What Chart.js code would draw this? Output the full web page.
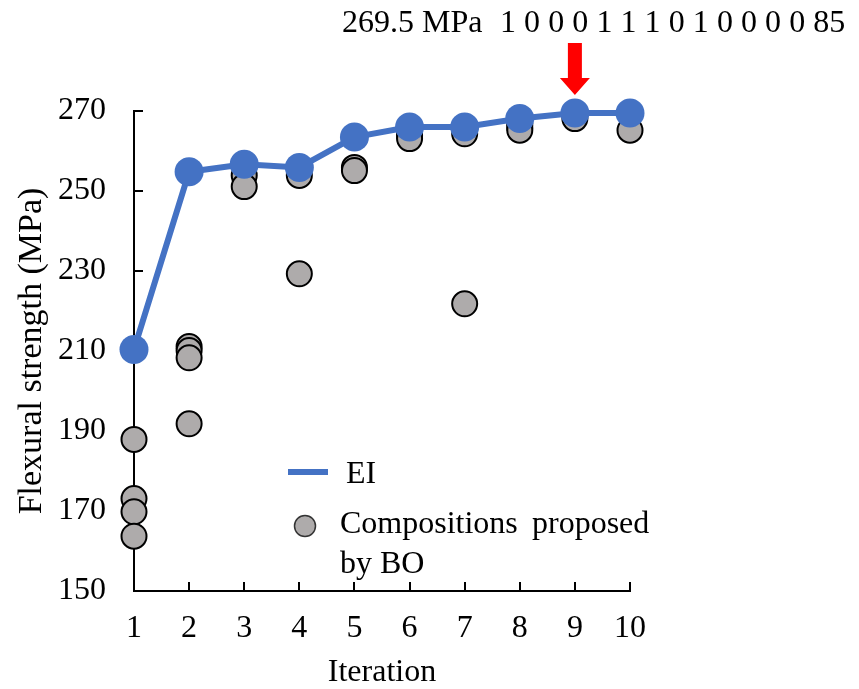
<!DOCTYPE html>
<html>
<head>
<meta charset="utf-8">
<script src="https://cdn.jsdelivr.net/npm/chart.js@4.4.1/dist/chart.umd.min.js"></script>
<style>
  html, body { margin: 0; padding: 0; background: #fff; }
  #wrap { width: 859px; height: 689px; position: relative; }
</style>
</head>
<body>
<div id="wrap"><canvas id="chart"></canvas></div>
<script>
// Best-so-far (EI) per iteration
const iterations = [1, 2, 3, 4, 5, 6, 7, 8, 9, 10];
const eiValues = [210.4, 254.8, 256.7, 255.9, 263.5, 266.0, 266.0, 268.1, 269.5, 269.5];

// Compositions proposed by BO, grouped by iteration
const boIteration = [1, 1, 1, 1, 2, 2, 2, 2, 3, 3, 4, 4, 5, 5, 6, 6, 6, 7, 7, 8, 8, 8, 9, 10];
const boValues = [187.9, 173.1, 169.8, 163.7, 211.1, 210.1, 208.3, 191.8, 253.9, 251.1, 253.9, 229.3,
                  255.9, 255.1, 264.9, 263.9, 263.1, 264.3, 221.8, 266.8, 265.9, 265.2, 268.1, 265.2];

const yTicks = [150, 170, 190, 210, 230, 250, 270];

const bestLabel = '269.5 MPa';
const bestComposition = [1, 0, 0, 0, 1, 1, 1, 0, 1, 0, 0, 0, 0, 85];
const bestIteration = 9;

const FONT = "'Liberation Serif', 'Times New Roman', serif";
const BLUE = '#4472C4';
const GREY = '#AEABAB';

// Excel style inner tick marks
const innerTicks = {
    id: 'innerTicks',
    beforeDatasetsDraw(chart) {
        const { ctx, scales: { x, y } } = chart;
        ctx.save();
        ctx.strokeStyle = '#000';
        ctx.lineWidth = 2;
        ctx.beginPath();
        y.ticks.forEach(t => {
            const py = Math.round(y.getPixelForValue(t.value));
            ctx.moveTo(x.left, py);
            ctx.lineTo(x.left + 9, py);
        });
        x.ticks.forEach(t => {
            const px = Math.round(x.getPixelForValue(t.value));
            ctx.moveTo(px, y.bottom);
            ctx.lineTo(px, y.bottom - 9);
        });
        ctx.stroke();
        ctx.restore();
    },
};

// legend + top annotation with arrow
const extras = {
    id: 'extras',
    afterDraw(chart) {
        const { ctx, scales: { x } } = chart;
        const ds = chart.data.datasets;
        ctx.save();
        ctx.font = `32px ${FONT}`;
        ctx.fillStyle = '#000';
        ctx.textBaseline = 'alphabetic';
        ctx.textAlign = 'left';

        // legend: EI line
        ctx.strokeStyle = BLUE;
        ctx.lineWidth = 6;
        ctx.beginPath();
        ctx.moveTo(288, 472);
        ctx.lineTo(328, 472);
        ctx.stroke();
        ctx.fillText(ds[0].label, 346, 483);

        // legend: BO marker
        ctx.beginPath();
        ctx.arc(305, 526, 10.5, 0, Math.PI * 2);
        ctx.fillStyle = GREY;
        ctx.fill();
        ctx.lineWidth = 1.5;
        ctx.strokeStyle = '#333';
        ctx.stroke();
        ctx.fillStyle = '#000';
        const words = ds[1].label.split(' ');
        ctx.fillText(words[0], 340, 533);
        ctx.fillText(words[1], 532, 533);
        ctx.fillText(words.slice(2).join(' '), 340, 573);

        // annotation text: value, then the composition spread evenly
        ctx.fillText(bestLabel, 342, 32);
        const step = 24.1;
        bestComposition.forEach((c, i) => {
            ctx.fillText(String(c), 500 + i * step, 32);
        });

        // red arrow over best iteration
        const ax = x.getPixelForValue(bestIteration);
        ctx.fillStyle = '#FF0000';
        ctx.beginPath();
        ctx.moveTo(ax - 7, 43);
        ctx.lineTo(ax + 7, 43);
        ctx.lineTo(ax + 7, 78);
        ctx.lineTo(ax + 15, 78);
        ctx.lineTo(ax, 95);
        ctx.lineTo(ax - 15, 78);
        ctx.lineTo(ax - 7, 78);
        ctx.closePath();
        ctx.fill();
        ctx.restore();
    },
};

new Chart(document.getElementById('chart'), {
    type: 'scatter',
    plugins: [innerTicks, extras],
    data: {
        datasets: [{
            label: 'EI',
            data: iterations.map((it, i) => ({ x: it, y: eiValues[i] })),
            showLine: true,
            borderColor: BLUE,
            backgroundColor: BLUE,
            borderWidth: 6,
            pointRadius: 14.5,
            pointBorderWidth: 0,
            pointBackgroundColor: BLUE,
            clip: false,
            order: 0,
        }, {
            label: 'Compositions proposed by BO',
            data: boIteration.map((it, i) => ({ x: it, y: boValues[i] })),
            pointRadius: 12.5,
            pointBackgroundColor: GREY,
            pointBorderColor: '#000',
            pointBorderWidth: 2,
            clip: false,
            order: 1,
        }],
    },
    options: {
        responsive: true,
        maintainAspectRatio: false,
        animation: false,
        layout: { padding: { left: 0, top: 111, right: 229, bottom: 0 } },
        plugins: {
            legend: { display: false },
            tooltip: { enabled: false },
        },
        scales: {
            x: {
                type: 'linear',
                min: 1,
                max: 10,
                afterFit: s => { s.height = 98; },
                afterBuildTicks: s => { s.ticks = iterations.map(v => ({ value: v })); },
                grid: { display: false, drawTicks: false },
                border: { display: true, color: '#000', width: 2 },
                ticks: { color: '#000', font: { family: FONT, size: 32 }, padding: 18, maxRotation: 0 },
                title: {
                    display: true,
                    text: 'Iteration',
                    color: '#000',
                    font: { family: FONT, size: 32, lineHeight: 1 },
                    padding: 0,
                },
            },
            y: {
                min: 150,
                max: 270,
                afterFit: s => { s.width = 134; },
                afterBuildTicks: s => { s.ticks = yTicks.map(v => ({ value: v })); },
                grid: { display: false, drawTicks: false },
                border: { display: true, color: '#000', width: 2 },
                ticks: { color: '#000', font: { family: FONT, size: 32 }, padding: 28 },
                title: {
                    display: true,
                    text: 'Flexural strength (MPa)',
                    color: '#000',
                    font: { family: FONT, size: 34 },
                    padding: { top: 12, bottom: 0 },
                },
            },
        },
    },
});
</script>
</body>
</html>
